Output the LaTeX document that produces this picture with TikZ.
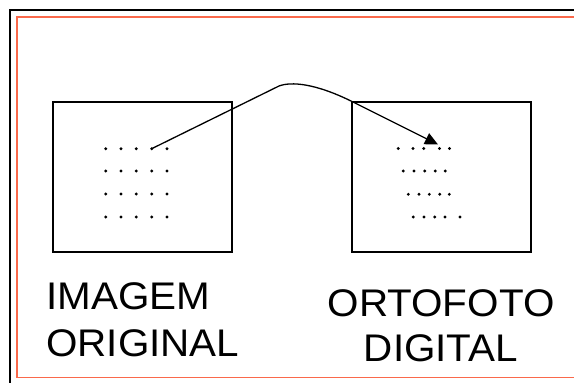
\documentclass[tikz,border=0pt]{standalone}
\usepackage{fontspec}
\setmainfont{Liberation Sans}
\usetikzlibrary{arrows.meta}
\definecolor{frameorange}{RGB}{250,105,75}
\tikzset{
  imgbox/.style={draw=black, line width=1.4pt},
  pix/.style={circle, fill=black, inner sep=0pt, minimum size=3.2pt},
  lbl/.style={font=\fontsize{38.5}{46}\selectfont, inner sep=0pt, xscale=1.05},
  link/.style={line width=1.3pt, -{Triangle[length=13pt,width=12pt]}}
}
\begin{document}
\begin{tikzpicture}[x=1pt,y=-1pt]
\useasboundingbox (0,0) rectangle (574,383);
\clip (0,0) rectangle (574,383);
\fill[white] (0,0) rectangle (574,383);
% frames (run past the right and bottom edges)
\draw[black, line width=2pt] (580,10) -- (10,10) -- (10,390);
\draw[frameorange, line width=1.7pt] (580,16.8) -- (16.8,16.8) -- (16.8,377.5) -- (580,377.5);
% boxes
\node[imgbox, minimum width=179pt, minimum height=150pt, inner sep=0pt] (left) at (142.5,177) {};
\node[imgbox, minimum width=179pt, minimum height=150pt, inner sep=0pt] (right) at (441.5,177) {};
% left dots
\foreach \y [count=\r] in {148.7,171,194,217} {
  \foreach \x [count=\c] in {105.7,121,136.3,151.7,167} {
    \node[pix] (l\r\c) at (\x,\y) {};
  }
}
% right dots
\foreach \x [count=\c] in {398.3,413,423.7,439.5,449.5} { \node[pix] (r1\c) at (\x,148.5) {}; }
\foreach \x [count=\c] in {403.3,414,424.7,435.3,445.3} { \node[pix] (r2\c) at (\x,171) {}; }
\foreach \x [count=\c] in {408.3,419,429.3,439.7,449.3} { \node[pix] (r3\c) at (\x,194.3) {}; }
\foreach \x [count=\c] in {413.3,424,434.7,445,460} { \node[pix] (r4\c) at (\x,217) {}; }
% arrow
\coordinate (tip) at (438,144.5);
\draw[link] (l14.center) -- (279,86) .. controls (291,81.5) and (315,83) .. (353,102) -- (tip);
% labels
\node[lbl, anchor=base west] (t1) at (46,309.3) {IMAGEM};
\node[lbl, anchor=base west] (t2) at (46,356) {ORIGINAL};
\node[lbl, anchor=base] (t3) at (441,316) {ORTOFOTO};
\node[lbl, anchor=base] (t4) at (441,361.7) {DIGITAL};
\end{tikzpicture}
\end{document}
